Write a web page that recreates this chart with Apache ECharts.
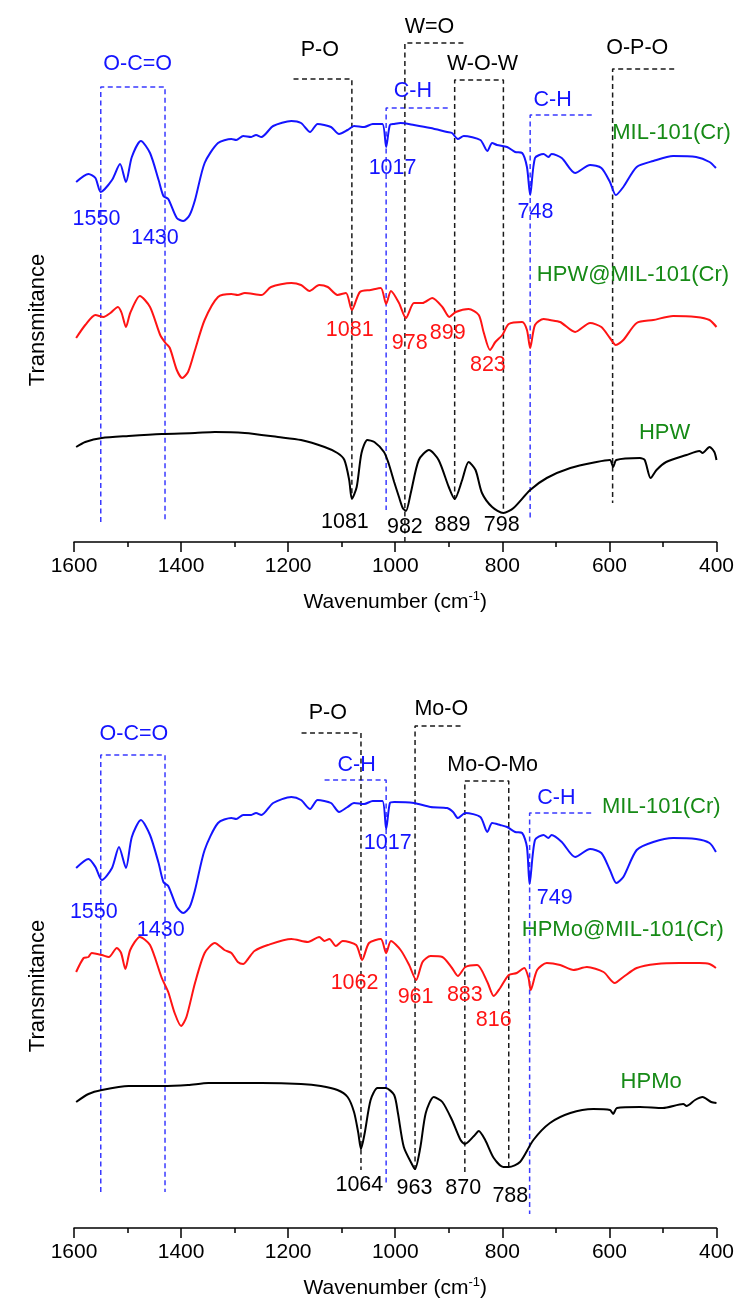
<!DOCTYPE html>
<html><head><meta charset="utf-8">
<script src="https://cdn.jsdelivr.net/npm/echarts@6/dist/echarts.min.js"></script>
<style>html,body{margin:0;padding:0;background:#fff}#c{width:737px;height:1301px}</style>
</head><body><div id="c"></div>
<script>
// ---------- DATA (wavenumber cm-1, transmittance a.u.) ----------
const xTicks = [1600, 1400, 1200, 1000, 800, 600, 400];

// Panel A (HPW)
const milTopA = [[1596,360],[1573,368],[1560,364],[1550,350],[1529,362],[1514,378],[1503,360],[1492,385],[1475,401],[1458,389],[1442,362],[1433,346],[1424,343],[1408,324],[1396,321],[1384,327],[1374,342],[1356,379],[1331,399],[1306,403],[1297,402],[1284,406],[1269,405],[1260,407],[1250,405],[1228,416],[1194,421],[1176,419],[1159,410],[1145,418],[1120,415],[1105,408],[1089,412],[1077,416],[1058,415],[1042,418],[1024,418],[1017,395],[1010,417],[1002,418],[990,419],[965,417],[934,414],[903,410],[894,409],[883,403],[872,406],[841,402],[828,391],[819,399],[810,397],[791,395],[776,390],[763,389],[754,375],[748,347],[739,384],[723,388],[714,385],[708,388],[689,384],[664,369],[636,377],[615,374],[599,360],[588,347],[574,355],[549,375],[518,381],[481,386],[438,385],[413,380],[401,374]];
const hpwMilA = [[1596,204],[1579,217],[1560,227],[1545,225],[1532,229],[1518,235],[1511,229],[1503,215],[1495,229],[1477,246],[1458,235],[1439,207],[1429,199],[1421,194],[1408,172],[1398,164],[1387,170],[1374,192],[1356,222],[1331,245],[1306,248],[1294,247],[1281,249],[1250,247],[1232,255],[1194,259],[1176,257],[1160,251],[1142,257],[1126,255],[1108,247],[1092,249],[1081,232],[1066,250],[1046,252],[1027,254],[1017,238],[1008,251],[993,239],[980,224],[965,239],[949,239],[931,244],[912,235],[899,225],[887,230],[863,233],[844,227],[835,210],[823,192],[813,200],[800,207],[788,218],[763,220],[754,212],[748,194],[739,217],[723,223],[711,222],[692,220],[664,210],[636,219],[615,215],[599,204],[588,197],[574,202],[549,219],[518,222],[481,226],[438,225],[413,222],[400,215]];
const hpwA = [[1596,95],[1579,100],[1548,104],[1498,106],[1436,108],[1374,109],[1337,110],[1281,109],[1219,105],[1176,102],[1132,95],[1108,89],[1095,82],[1086,62],[1081,43],[1072,55],[1063,89],[1052,102],[1039,100],[1021,90],[1012,78],[1002,60],[993,45],[986,34],[980,31],[971,49],[956,82],[937,92],[919,82],[900,55],[889,43],[875,62],[863,80],[850,72],[838,49],[819,35],[798,29],[779,34],[748,52],[717,64],[673,74],[624,80],[599,82],[593,75],[587,82],[543,84],[534,82],[523,64],[512,72],[494,80],[456,87],[432,91],[426,89],[413,95],[404,90],[400,82]];

// Panel B (HPMo)
const milTopB = [[1596,360],[1573,369],[1560,361],[1548,348],[1529,360],[1516,381],[1503,360],[1492,391],[1475,408],[1458,393],[1442,365],[1433,346],[1424,342],[1408,321],[1396,315],[1384,321],[1374,338],[1356,378],[1331,405],[1306,410],[1297,409],[1284,413],[1269,413],[1260,415],[1250,413],[1228,425],[1194,431],[1176,428],[1159,419],[1145,428],[1120,425],[1105,416],[1089,421],[1077,425],[1058,424],[1042,427],[1024,427],[1017,399],[1010,425],[1002,426],[965,425],[934,421],[903,420],[892,416],[883,410],[869,415],[841,411],[828,396],[819,405],[804,403],[791,401],[776,396],[763,395],[754,381],[749,344],[739,388],[723,393],[714,390],[708,393],[689,386],[664,371],[636,379],[615,375],[599,358],[587,345],[574,351],[549,378],[518,386],[481,390],[438,389],[413,385],[401,376]];
const hpmoMilB = [[1596,256],[1582,270],[1573,271],[1567,275],[1548,273],[1535,271],[1520,280],[1512,275],[1504,259],[1495,278],[1477,291],[1458,283],[1436,250],[1424,236],[1412,215],[1400,202],[1390,211],[1374,245],[1356,275],[1337,285],[1319,278],[1306,275],[1294,266],[1284,264],[1275,269],[1263,277],[1238,283],[1194,289],[1163,286],[1142,291],[1132,287],[1123,289],[1111,282],[1098,287],[1073,283],[1062,268],[1049,285],[1027,289],[1017,275],[1008,287],[990,278],[974,263],[961,248],[949,266],[934,272],[912,271],[894,260],[883,252],[869,261],[847,263],[828,246],[816,232],[804,240],[788,253],[773,255],[759,260],[751,250],[747,238],[735,258],[717,265],[692,263],[667,258],[642,261],[611,256],[590,245],[574,251],[549,260],[512,264],[469,265],[432,265],[413,264],[401,260]];
const hpmoB = [[1596,126],[1573,134],[1548,138],[1498,142],[1436,142],[1387,143],[1349,145],[1250,145],[1176,144],[1139,142],[1108,138],[1089,131],[1077,116],[1069,95],[1064,79],[1057,95],[1046,128],[1033,140],[1018,140],[1002,133],[995,115],[984,81],[968,63],[963,59],[953,81],[943,115],[928,131],[912,126],[894,108],[878,88],[870,84],[853,92],[844,97],[832,88],[816,70],[798,61],[788,61],[767,66],[742,88],[711,105],[673,115],[630,119],[599,118],[593,114],[586,120],[543,121],[500,120],[462,124],[456,122],[440,128],[426,131],[410,126],[400,125]];

// Assignment brackets (dashed guide lines)
const bracketsBlueA = [
  [[1550,20],[1550,455],[1430,455],[1430,20]],
  [[902,434],[1017,434],[1017,32]],
  [[633,427],[748,427],[748,22]]
];
const bracketsBlackA = [
  [[1190,463],[1081,463],[1081,45]],
  [[982,0],[982,499],[870,499]],
  [[889,42],[889,462],[798,462],[798,29]],
  [[479,473],[594,473],[594,39]]
];
const bracketsBlueB = [
  [[1550,36],[1550,473],[1430,473],[1430,36]],
  [[1132,448],[1017,448],[1017,45]],
  [[634,415],[749,415],[749,14]]
];
const bracketsBlackB = [
  [[1175,495],[1064,495],[1064,58]],
  [[963,58],[963,502],[877,502]],
  [[870,56],[870,447],[788,447],[788,60]]
];

// Text annotations [text, wavenumber, level]
const textBlueA  = [['O-C=O',1481,478],['C-H',967,451],['C-H',706,442],['1550',1558,323],['1430',1449,304],['1017',1005,374],['748',738,330]];
const textBlackA = [['P-O',1141,492],['W=O',936,515],['W-O-W',837,478],['O-P-O',548,494],['1081',1094,20],['982',982,15],['889',893,17],['798',801,17]];
const textRedA   = [['1081',1085,212],['978',973,199],['899',902,209],['823',827,177]];
const textGreenA = [['MIL-101(Cr)',484,409],['HPW@MIL-101(Cr)',556,267],['HPW',497,109]];

const textBlueB  = [['O-C=O',1488,494],['C-H',1072,463],['C-H',699,430],['1550',1563,316],['1430',1438,298],['1017',1014,385],['749',702,330]];
const textBlackB = [['P-O',1126,515],['Mo-O',914,519],['Mo-O-Mo',818,463],['1064',1067,43],['963',964,40],['870',873,40],['788',785,32]];
const textRedB   = [['1062',1076,245],['961',962,231],['883',870,233],['816',816,208]];
const textGreenB = [['MIL-101(Cr)',503,421],['HPMo@MIL-101(Cr)',575,298],['HPMo',522,146]];

// ---------- CHART ----------
const FONT = '"Liberation Sans", Arial, sans-serif';
const BLUE = '#1414ff', RED = '#ff1414', BLACK = '#000000', GREEN = '#168a16';
const DASH_BLUE = '#3a3aff', DASH_BLACK = '#1a1a1a';

function curve(name, data, color, idx) {
  return { name, type: 'line', xAxisIndex: idx, yAxisIndex: idx, data,
    showSymbol: false, symbol: 'none', smooth: 0.25, silent: true, z: 3,
    lineStyle: { color, width: 2 }, itemStyle: { color } };
}
function brackets(list, color, idx) {
  return list.map(d => ({ type: 'line', xAxisIndex: idx, yAxisIndex: idx, data: d,
    showSymbol: false, symbol: 'none', silent: true, z: 2, clip: false,
    lineStyle: { color, width: 1.5, type: [5, 3.5] } }));
}
function texts(list, color, idx, size) {
  return { type: 'scatter', xAxisIndex: idx, yAxisIndex: idx, symbolSize: 0, silent: true, clip: false, z: 5,
    itemStyle: { opacity: 1, color },
    data: list.map(([t, x, y]) => ({ name: t, value: [x, y] })),
    label: { show: true, position: 'inside', formatter: '{b}', color, opacity: 1, fontSize: size, fontFamily: FONT },
    emphasis: { disabled: true },
    labelLayout: { hideOverlap: false } };
}
function xAxis(idx) {
  return { type: 'value', gridIndex: idx, inverse: true, min: 400, max: 1600, interval: 200,
    axisLine: { show: true, onZero: false, lineStyle: { color: '#000', width: 1.5 } },
    axisTick: { show: true, inside: false, length: 10, lineStyle: { color: '#000', width: 1.5 } },
    minorTick: { show: true, splitNumber: 2, length: 5, lineStyle: { color: '#000', width: 1.5 } },
    splitLine: { show: false },
    axisLabel: { color: '#000', fontSize: 21, fontFamily: FONT, margin: 14,
      formatter: v => (xTicks.includes(v) ? String(v) : '') },
    name: 'Wavenumber (cm{sup|-1})', nameLocation: 'middle', nameGap: 48,
    nameTextStyle: { color: '#000', fontSize: 21, fontFamily: FONT,
      rich: { sup: { fontSize: 13, fontFamily: FONT, color: '#000', verticalAlign: 'top', padding: [0, 0, 12, 0] } } } };
}

const option = {
  backgroundColor: '#fff',
  animation: false,
  grid: [
    { left: 74, right: 20, top: 20, bottom: 1301 - 542 },
    { left: 74, right: 20, top: 690, bottom: 1301 - 1228 }
  ],
  xAxis: [xAxis(0), xAxis(1)],
  yAxis: [
    { type: 'value', gridIndex: 0, min: 0, max: 522, show: false },
    { type: 'value', gridIndex: 1, min: 0, max: 538, show: false }
  ],
  graphic: [
    { type: 'text', x: 38, y: 320, rotation: Math.PI / 2, silent: true,
      style: { text: 'Transmitance', fontSize: 22, fontFamily: FONT, fill: '#000', align: 'center', verticalAlign: 'middle' } },
    { type: 'text', x: 38, y: 986, rotation: Math.PI / 2, silent: true,
      style: { text: 'Transmitance', fontSize: 22, fontFamily: FONT, fill: '#000', align: 'center', verticalAlign: 'middle' } }
  ],
  series: [
    ...brackets(bracketsBlueA, DASH_BLUE, 0),
    ...brackets(bracketsBlackA, DASH_BLACK, 0),
    ...brackets(bracketsBlueB, DASH_BLUE, 1),
    ...brackets(bracketsBlackB, DASH_BLACK, 1),
    curve('MIL-101(Cr)', milTopA, BLUE, 0),
    curve('HPW@MIL-101(Cr)', hpwMilA, RED, 0),
    curve('HPW', hpwA, BLACK, 0),
    curve('MIL-101(Cr)', milTopB, BLUE, 1),
    curve('HPMo@MIL-101(Cr)', hpmoMilB, RED, 1),
    curve('HPMo', hpmoB, BLACK, 1),
    texts(textBlueA, BLUE, 0, 21.5), texts(textBlackA, BLACK, 0, 21.5),
    texts(textRedA, RED, 0, 21.5), texts(textGreenA, GREEN, 0, 22),
    texts(textBlueB, BLUE, 1, 21.5), texts(textBlackB, BLACK, 1, 21.5),
    texts(textRedB, RED, 1, 21.5), texts(textGreenB, GREEN, 1, 22)
  ]
};
const chart = echarts.init(document.getElementById('c'));
chart.setOption(option);
</script></body></html>
